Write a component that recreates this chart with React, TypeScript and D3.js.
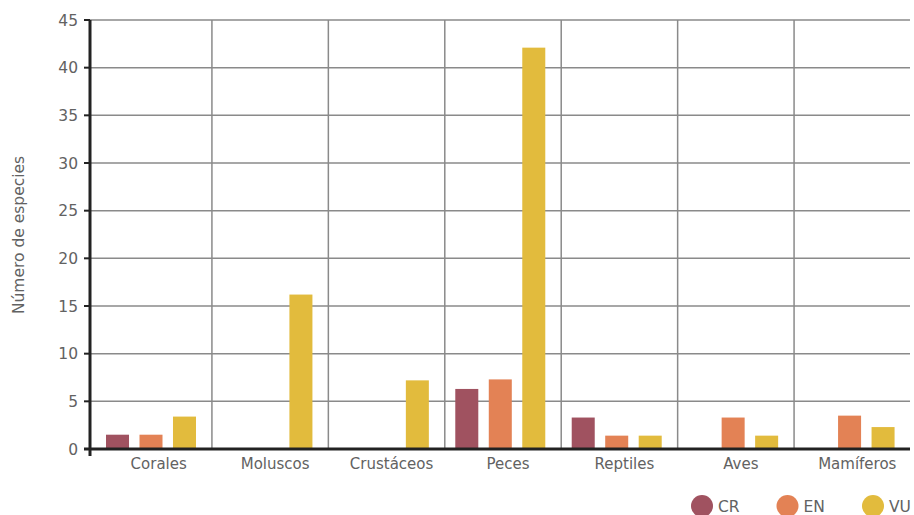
import React from "react";
import * as d3 from "d3";

const categories = ["Corales", "Moluscos", "Crustáceos", "Peces", "Reptiles", "Aves", "Mamíferos"];
const seriesNames = ["CR", "EN", "VU"];
const crValues = [1.5, 0, 0, 6.3, 3.3, 0, 0];
const enValues = [1.5, 0, 0, 7.3, 1.4, 3.3, 3.5];
const vuValues = [3.4, 16.2, 7.2, 42.1, 1.4, 1.4, 2.3];
const seriesColors = ["#a05260", "#e38255", "#e2bb3d"];
const yTicks = [0, 5, 10, 15, 20, 25, 30, 35, 40, 45];

export default function App() {
  const W = 914, H = 515;
  const axisX = 90;
  const y = d3.scaleLinear().domain([0, 45]).range([449, 20]);
  const x0 = d3.scaleBand<string>().domain(categories).range([95.5, 910.5]).padding(0);
  const x1 = d3.scaleBand<string>().domain(seriesNames).range([10.5, 100.5]).paddingInner(0.313).paddingOuter(0);
  const values = [crValues, enValues, vuValues];
  const font = "'DejaVu Sans', sans-serif";
  const textColor = "#626262";

  return (
    <svg width={W} height={H} style={{ position: "absolute", left: 0, top: 0 }}>
      <rect x={0} y={0} width={W} height={H} fill="#fff" />
      {yTicks.map((t) => (
        <line key={"g" + t} x1={axisX} x2={910} y1={y(t)} y2={y(t)} stroke="#8a8a8a" strokeWidth={1.5} />
      ))}
      {categories.slice(1).map((c) => (
        <line key={"v" + c} x1={x0(c)!} x2={x0(c)!} y1={y(45)} y2={y(0)} stroke="#8a8a8a" strokeWidth={1.5} />
      ))}
      {categories.map((c, i) => (
        <g key={"b" + c}>
          {seriesNames.map((s, j) =>
            values[j][i] > 0 ? (
              <rect
                key={s}
                x={x0(c)! + x1(s)!}
                y={y(values[j][i])}
                width={x1.bandwidth()}
                height={y(0) - y(values[j][i])}
                fill={seriesColors[j]}
              />
            ) : null
          )}
        </g>
      ))}
      <line x1={84} x2={910} y1={y(0)} y2={y(0)} stroke="#222" strokeWidth={3} />
      <line x1={axisX} x2={axisX} y1={y(45)} y2={456} stroke="#222" strokeWidth={3} />
      {yTicks.map((t) => (
        <g key={"t" + t}>
          <line x1={84} x2={axisX} y1={y(t)} y2={y(t)} stroke="#222" strokeWidth={2} />
          <text x={78} y={y(t)} dy="0.36em" textAnchor="end" fontFamily={font} fontSize={15.5} fill={textColor}>
            {t}
          </text>
        </g>
      ))}
      {categories.map((c) => (
        <text key={"l" + c} x={x0(c)! + x0.bandwidth() / 2 + 5} y={469} textAnchor="middle" fontFamily={font} fontSize={15} fill={textColor}>
          {c}
        </text>
      ))}
      <text transform="translate(24,235) rotate(-90)" textAnchor="middle" fontFamily={font} fontSize={15.5} fill={textColor}>
        Número de especies
      </text>
      {seriesNames.map((s, j) => {
        const cx = 702 + j * 85.5;
        return (
          <g key={"lg" + s}>
            <circle cx={cx} cy={506} r={11} fill={seriesColors[j]} />
            <text x={cx + 16} y={512} fontFamily={font} fontSize={15.5} fill={textColor}>
              {s}
            </text>
          </g>
        );
      })}
    </svg>
  );
}
